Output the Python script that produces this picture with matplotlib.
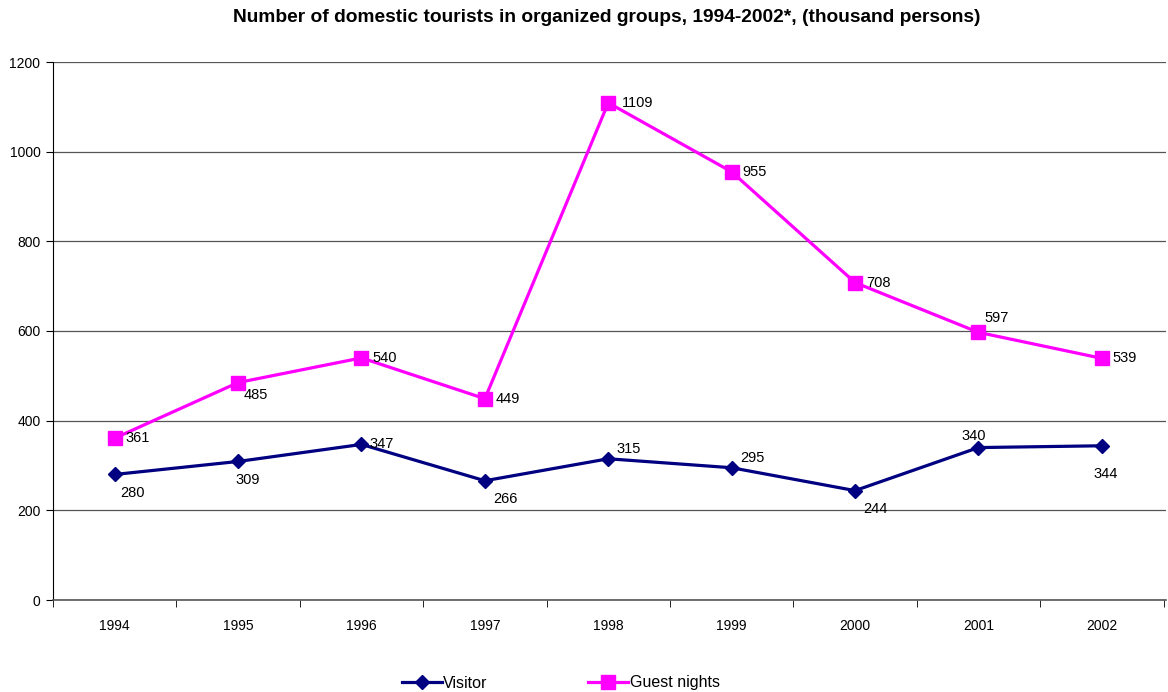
import matplotlib
matplotlib.use("Agg")
import matplotlib.pyplot as plt
from matplotlib.lines import Line2D

years = ["1994", "1995", "1996", "1997", "1998", "1999", "2000", "2001", "2002"]
visitor = [280, 309, 347, 266, 315, 295, 244, 340, 344]
guest_nights = [361, 485, 540, 449, 1109, 955, 708, 597, 539]
yticks = [0, 200, 400, 600, 800, 1000, 1200]
title = "Number of domestic tourists in organized groups, 1994-2002*, (thousand persons)"

# label offsets in points (style, not data)
visitor_off = [(4, -13), (-2, -13), (6, 0), (6, -13), (6, 7), (6, 7), (6, -13), (-12, 8), (-6, -20)]
guest_off = [(8, 0), (4, -9), (8, 0), (8, 0), (10, 0), (8, 0), (8, 0), (4, 10), (8, 0)]

plt.rcParams['font.family'] = ['Liberation Sans', 'DejaVu Sans']

fig = plt.figure(figsize=(11.68, 6.92), dpi=100)
ax = fig.add_axes([53/1168, 1 - 600/692, 1113/1168, 538/692])

x = list(range(len(years)))
navy = "#000080"
magenta = "#FF00FF"

ax.plot(x, visitor, color=navy, lw=2.3, marker="D", ms=7.5, mfc=navy, mec=navy, zorder=3)
ax.plot(x, guest_nights, color=magenta, lw=2.3, marker="s", ms=9.5, mfc=magenta, mec=magenta, zorder=3)

for i, v in enumerate(visitor):
    ax.annotate(str(v), (x[i], v), xytext=visitor_off[i], textcoords="offset points",
                ha="left", va="center", fontsize=10.5, color="black", zorder=4)
for i, v in enumerate(guest_nights):
    ax.annotate(str(v), (x[i], v), xytext=guest_off[i], textcoords="offset points",
                ha="left", va="center", fontsize=10.5, color="black", zorder=4)

ax.set_xlim(-0.5, len(years) - 0.5 + 0.02)
ax.set_ylim(0, 1200)
ax.set_yticks(yticks)
ax.set_yticklabels([str(t) for t in yticks], fontsize=10)
ax.yaxis.grid(True, color="#555555", lw=0.9)
ax.set_axisbelow(True)

ax.set_xticks(x)
ax.set_xticklabels(years, fontsize=10)
ax.tick_params(axis="x", length=0, pad=14)
ax.set_xticks([i + 0.5 for i in range(-1, len(years))], minor=True)
ax.tick_params(axis="x", which="minor", length=5, direction="out", color="black")
ax.tick_params(axis="y", length=5, direction="out", color="black", pad=4)

for s in ["top", "right"]:
    ax.spines[s].set_visible(False)
ax.spines["left"].set_color("black")
ax.spines["bottom"].set_color("#555555")
ax.spines["bottom"].set_linewidth(1.2)

fig.text(607/1168, 1 - 18/692, title, ha="center", va="center", fontsize=13.8, fontweight="bold")

handles = [Line2D([0], [0], color=navy, lw=2.3, marker="D", ms=7.5),
           Line2D([0], [0], color=magenta, lw=2.3, marker="s", ms=9.5)]
fig.legend(handles, ["Visitor", "Guest nights"], loc="center", bbox_to_anchor=(0.48, 1 - 683/692),
           ncol=2, frameon=False, fontsize=11.5, handlelength=2.5, handletextpad=0.1, columnspacing=6.3)

fig.savefig("out.png", dpi=100, facecolor="white")
